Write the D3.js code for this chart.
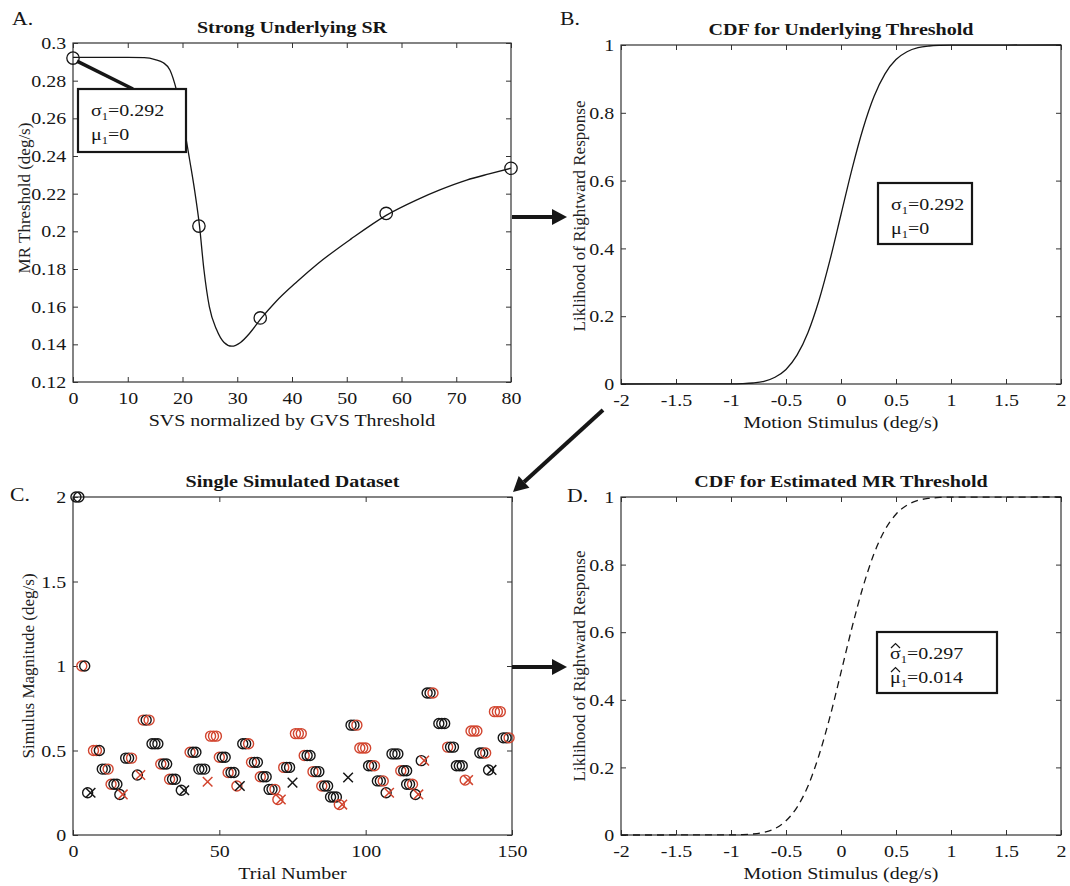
<!DOCTYPE html>
<html>
<head>
<meta charset="utf-8">
<script src="https://cdn.jsdelivr.net/npm/d3@7"></script>
<style>
  body { margin: 0; background: #fff; }
  svg text { font-family: "Liberation Serif", "Times New Roman", Times, serif !important; }
</style>
</head>
<body>
<div id="chart"></div>
<script>
// ---- panel A: MR threshold vs SVS ----
const srX = [0, 5, 10, 13, 15, 16.5, 17.7, 18.9, 20.3, 21.3, 22.2, 23.1, 23.9, 24.9, 26.2, 27.6, 29, 30.6, 32.3, 34.4, 37, 41, 44.7, 50.8, 57.2, 62.7, 67, 71.9, 76, 80];
const srY = [0.2924, 0.2924, 0.2924, 0.2922, 0.2912, 0.2895, 0.2857, 0.275, 0.255, 0.238, 0.222, 0.203, 0.18, 0.16, 0.148, 0.141, 0.139, 0.141, 0.146, 0.1539, 0.1625, 0.1735, 0.1828, 0.196, 0.2085, 0.2166, 0.222, 0.2272, 0.2305, 0.2335];
const srPtX = [0, 23, 34.2, 57.2, 80];
const srPtY = [0.292, 0.2028, 0.154, 0.2095, 0.2335];
const aXTicks = [0, 10, 20, 30, 40, 50, 60, 70, 80];
const aYTicks = [0.12, 0.14, 0.16, 0.18, 0.2, 0.22, 0.24, 0.26, 0.28, 0.3];

// ---- panels B and D: CDF curves ----
const cdfX = [-2, -1, -0.9, -0.8, -0.7, -0.6, -0.5, -0.4, -0.3, -0.2, -0.1, 0, 0.1, 0.2, 0.3, 0.4, 0.5, 0.6, 0.7, 0.8, 0.9, 1, 2];
const cdfTrue = [0, 0.0003, 0.001, 0.003, 0.008, 0.02, 0.043, 0.085, 0.152, 0.247, 0.366, 0.5, 0.634, 0.753, 0.848, 0.915, 0.957, 0.98, 0.992, 0.997, 0.999, 0.9997, 1];
const cdfEst = [0, 0.0003, 0.001, 0.003, 0.008, 0.019, 0.042, 0.082, 0.145, 0.236, 0.35, 0.481, 0.614, 0.734, 0.832, 0.903, 0.949, 0.976, 0.99, 0.996, 0.9986, 0.9995, 1];
const cdfXTicks = [-2, -1.5, -1, -0.5, 0, 0.5, 1, 1.5, 2];
const cdfYTicks = [0, 0.2, 0.4, 0.6, 0.8, 1];

// ---- panel C: staircase, one block per stimulus level ----
// marks: k = black o, r = red o, K = black x, R = red x (one char per trial)
const blockStart = [1, 3, 5, 7, 10, 13, 16, 18, 22, 24, 27, 30, 33, 37, 40, 43, 46, 47, 50, 53, 56, 58, 61, 64, 67, 70, 72, 75, 76, 79, 82, 85, 88, 91, 94, 95, 98, 101, 104, 107, 109, 112, 114, 117, 119, 121, 125, 128, 131, 134, 136, 139, 142, 144, 147];
const blockMag = [2.0, 1.0, 0.25, 0.50, 0.39, 0.30, 0.24, 0.455, 0.355, 0.68, 0.54, 0.42, 0.33, 0.265, 0.49, 0.39, 0.315, 0.585, 0.46, 0.37, 0.29, 0.54, 0.43, 0.345, 0.27, 0.21, 0.40, 0.31, 0.60, 0.47, 0.375, 0.29, 0.225, 0.18, 0.34, 0.65, 0.515, 0.41, 0.32, 0.25, 0.48, 0.38, 0.30, 0.24, 0.44, 0.84, 0.66, 0.52, 0.41, 0.325, 0.615, 0.485, 0.385, 0.73, 0.575];
const blockMarks = ["kk", "rk", "kK", "rrk", "kkr", "rkk", "kR", "kkr", "kR", "rkr", "kkk", "rkk", "rkk", "kK", "rkk", "kkk", "R", "rrr", "rkk", "rkk", "rK", "kkr", "rkk", "rkk", "kkr", "rR", "rkk", "K", "rrr", "rkk", "rkk", "rkk", "kkk", "rR", "K", "kkr", "rrr", "kkr", "kkr", "kR", "kkk", "rkk", "kkr", "kR", "kR", "kkr", "kkk", "rkk", "kkk", "rR", "rrr", "kkr", "kK", "rrr", "kkr"];
const cXTicks = [0, 50, 100, 150];
const cYTicks = [0, 0.5, 1, 1.5, 2];

const RED = "#d2452f";
const INK = "#161616";
const SX = 1.14;   // the figure is a bit wider than tall, text included
const FS = 17.5;

const svg = d3.select("#chart").append("svg")
    .attr("width", 1070)
    .attr("height", 886);

function htext(g, x, y, str, size, anchor, weight) {
    return g.append("text")
        .attr("transform", `translate(${x},${y}) scale(${SX},1)`)
        .attr("text-anchor", anchor || "start")
        .style("font-size", size + "px")
        .style("font-weight", weight || "normal")
        .attr("fill", INK)
        .text(str);
}

function panel(o) {
    const x = d3.scaleLinear().domain(o.xDomain).range([o.left, o.right]);
    const y = d3.scaleLinear().domain(o.yDomain).range([o.bottom, o.top]);
    const g = svg.append("g");
    const fmt = d => String(d);

    g.append("g")
        .attr("transform", `translate(0,${o.bottom})`)
        .call(d3.axisBottom(x).tickValues(o.xTicks).tickSize(-5).tickPadding(10).tickFormat(fmt));
    g.append("g")
        .attr("transform", `translate(0,${o.top})`)
        .call(d3.axisTop(x).tickValues(o.xTicks).tickSize(-5).tickFormat(""));
    g.append("g")
        .attr("transform", `translate(${o.left},0)`)
        .call(d3.axisLeft(y).tickValues(o.yTicks).tickSize(-5).tickPadding(6).tickFormat(fmt));
    g.append("g")
        .attr("transform", `translate(${o.right},0)`)
        .call(d3.axisRight(y).tickValues(o.yTicks).tickSize(-5).tickFormat(""));

    g.selectAll(".domain").remove();
    g.selectAll(".tick line").attr("stroke", "#333");
    g.selectAll(".tick text")
        .attr("fill", INK)
        .attr("transform", `scale(${SX},1)`)
        .style("font-size", FS + "px");

    g.append("rect")
        .attr("x", o.left).attr("y", o.top)
        .attr("width", o.right - o.left).attr("height", o.bottom - o.top)
        .attr("fill", "none").attr("stroke", "#333").attr("stroke-width", 1.2);

    htext(g, (o.left + o.right) / 2, o.top - 10, o.title, 17.6, "middle", "bold");
    htext(g, o.letterX, o.letterY, o.letter, 19);
    htext(g, (o.left + o.right) / 2, o.bottom + 44, o.xLabel, FS, "middle");

    g.append("text")
        .attr("transform", `translate(${o.yLabelX},${o.yLabelY}) rotate(-90)`)
        .attr("text-anchor", "middle")
        .style("font-size", "17px")
        .attr("fill", "#222")
        .text(o.yLabel);

    return { g, x, y };
}

function paramBox(g, bx, by, bw, bh, lines, hats) {
    g.append("rect")
        .attr("x", bx).attr("y", by).attr("width", bw).attr("height", bh)
        .attr("fill", "#fff").attr("stroke", INK).attr("stroke-width", 2.2);
    lines.forEach((ln, i) => {
        const base = by + 27 + i * 24;
        const t = htext(g, bx + 13, base, "", FS);
        t.append("tspan").text(ln[0]);
        t.append("tspan").attr("dy", 4).style("font-size", "11px").text("1");
        t.append("tspan").attr("dy", -4).text(ln[1]);
        if (hats) {
            const hx = bx + 13;
            g.append("path")
                .attr("d", `M${hx + 1},${base - 11}L${hx + 5.5},${base - 15.5}L${hx + 10},${base - 11}`)
                .attr("fill", "none").attr("stroke", INK).attr("stroke-width", 1.2);
        }
    });
}

function arrow(x1, y1, x2, y2) {
    const ang = Math.atan2(y2 - y1, x2 - x1);
    const head = 15, half = 8;
    const bx = x2 - head * Math.cos(ang), by = y2 - head * Math.sin(ang);
    svg.append("line")
        .attr("x1", x1).attr("y1", y1).attr("x2", bx).attr("y2", by)
        .attr("stroke", INK).attr("stroke-width", 4);
    const px = -Math.sin(ang) * half, py = Math.cos(ang) * half;
    svg.append("path")
        .attr("d", `M${x2},${y2}L${bx + px},${by + py}L${bx - px},${by - py}Z`)
        .attr("fill", INK);
}

// ---- A ----
const A = panel({
    left: 73, right: 511, top: 43, bottom: 382,
    xDomain: [0, 80], yDomain: [0.12, 0.3],
    xTicks: aXTicks, yTicks: aYTicks,
    title: "Strong Underlying SR", letter: "A.", letterX: 12, letterY: 25,
    xLabel: "SVS normalized by GVS Threshold", yLabel: "MR Threshold (deg/s)", yLabelX: 30, yLabelY: 198
});
A.g.append("path")
    .datum(d3.zip(srX, srY))
    .attr("d", d3.line().x(d => A.x(d[0])).y(d => A.y(d[1])).curve(d3.curveMonotoneX))
    .attr("fill", "none").attr("stroke", INK).attr("stroke-width", 1.3);
A.g.selectAll("circle.sr")
    .data(d3.zip(srPtX, srPtY))
    .join("circle")
    .attr("class", "sr")
    .attr("cx", d => A.x(d[0])).attr("cy", d => A.y(d[1]))
    .attr("r", 6.2)
    .attr("fill", "none").attr("stroke", INK).attr("stroke-width", 1.3);
A.g.append("line")
    .attr("x1", A.x(srPtX[0]) + 4).attr("y1", A.y(srPtY[0]) + 3)
    .attr("x2", 133).attr("y2", 89)
    .attr("stroke", INK).attr("stroke-width", 3.5);
paramBox(A.g, 78, 89, 108, 63, [["\u03C3", "=0.292"], ["\u03BC", "=0"]], false);

// ---- B ----
const B = panel({
    left: 621, right: 1061, top: 45, bottom: 384,
    xDomain: [-2, 2], yDomain: [0, 1],
    xTicks: cdfXTicks, yTicks: cdfYTicks,
    title: "CDF for Underlying Threshold", letter: "B.", letterX: 560, letterY: 25,
    xLabel: "Motion Stimulus (deg/s)", yLabel: "Liklihood of Rightward Response", yLabelX: 585, yLabelY: 216
});
B.g.append("path")
    .datum(d3.zip(cdfX, cdfTrue))
    .attr("d", d3.line().x(d => B.x(d[0])).y(d => B.y(d[1])).curve(d3.curveMonotoneX))
    .attr("fill", "none").attr("stroke", INK).attr("stroke-width", 1.3);
paramBox(B.g, 878, 183, 94, 61, [["\u03C3", "=0.292"], ["\u03BC", "=0"]], false);

// ---- C ----
const C = panel({
    left: 73, right: 512, top: 497, bottom: 835,
    xDomain: [0, 150], yDomain: [0, 2],
    xTicks: cXTicks, yTicks: cYTicks,
    title: "Single Simulated Dataset", letter: "C.", letterX: 10, letterY: 501,
    xLabel: "Trial Number", yLabel: "Simulus Magnitude (deg/s)", yLabelX: 34, yLabelY: 666
});
const trials = [];
blockStart.forEach((s, b) => {
    blockMarks[b].split("").forEach((m, i) => {
        trials.push({ t: s + i, v: blockMag[b], m });
    });
});
const marks = C.g.append("g");
trials.forEach(d => {
    const cx = C.x(d.t), cy = C.y(d.v);
    const col = (d.m === "r" || d.m === "R") ? RED : INK;
    if (d.m === "k" || d.m === "r") {
        marks.append("circle")
            .attr("cx", cx).attr("cy", cy).attr("r", 5)
            .attr("fill", "none").attr("stroke", col).attr("stroke-width", 1.4);
    } else {
        const s = 4.8;
        marks.append("path")
            .attr("d", `M${cx - s},${cy - s}L${cx + s},${cy + s}M${cx - s},${cy + s}L${cx + s},${cy - s}`)
            .attr("stroke", col).attr("stroke-width", 1.5);
    }
});

// ---- D ----
const D = panel({
    left: 621, right: 1061, top: 497, bottom: 835,
    xDomain: [-2, 2], yDomain: [0, 1],
    xTicks: cdfXTicks, yTicks: cdfYTicks,
    title: "CDF for Estimated MR Threshold", letter: "D.", letterX: 567, letterY: 502,
    xLabel: "Motion Stimulus (deg/s)", yLabel: "Liklihood of Rightward Response", yLabelX: 585, yLabelY: 666
});
D.g.append("path")
    .datum(d3.zip(cdfX, cdfEst))
    .attr("d", d3.line().x(d => D.x(d[0])).y(d => D.y(d[1])).curve(d3.curveMonotoneX))
    .attr("fill", "none").attr("stroke", INK).attr("stroke-width", 1.3)
    .attr("stroke-dasharray", "7,5");
paramBox(D.g, 877, 632, 120, 61, [["\u03C3", "=0.297"], ["\u03BC", "=0.014"]], true);

// ---- arrows between panels ----
arrow(512, 217, 567, 217);
arrow(603, 410, 513, 492);
arrow(512, 667, 567, 667);
</script>
</body>
</html>
